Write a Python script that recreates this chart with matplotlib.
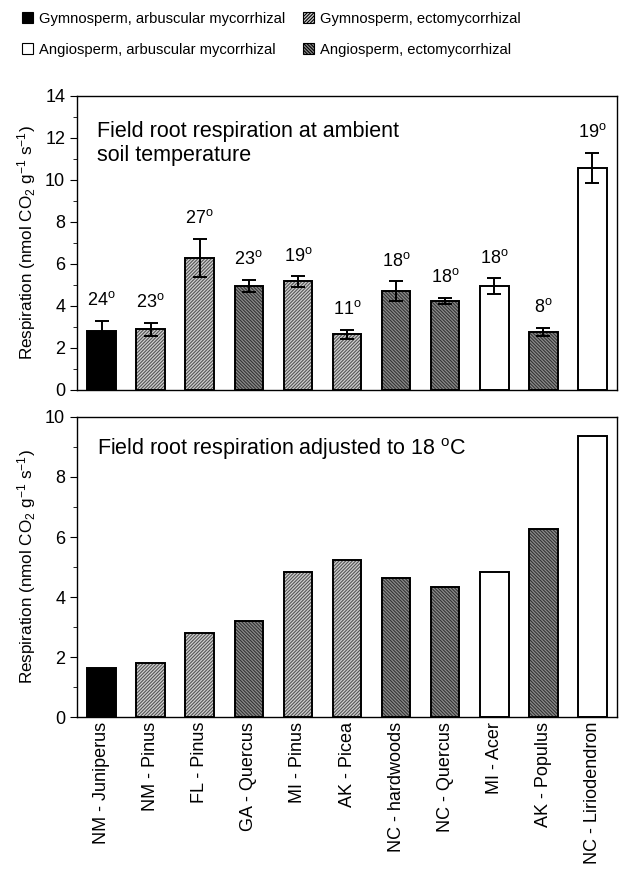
import matplotlib
matplotlib.use("Agg")
import matplotlib.pyplot as plt
from matplotlib.patches import Patch
from matplotlib.ticker import MultipleLocator
import numpy as np

plt.rcParams['font.family'] = ['Liberation Sans', 'DejaVu Sans']
plt.rcParams['mathtext.fontset'] = 'custom'
plt.rcParams['mathtext.rm'] = 'Liberation Sans'
plt.rcParams['mathtext.it'] = 'Liberation Sans:italic'
plt.rcParams['hatch.linewidth'] = 0.8

sites = ["NM - Juniperus", "NM - Pinus", "FL - Pinus", "GA - Quercus", "MI - Pinus",
         "AK - Picea", "NC - hardwoods", "NC - Quercus", "MI - Acer", "AK - Populus",
         "NC - Liriodendron"]
groups = ["GAM", "GECM", "GECM", "AECM", "GECM", "GECM", "AECM", "AECM", "AAM", "AECM", "AAM"]
ambient = [2.82, 2.89, 6.29, 4.95, 5.17, 2.65, 4.71, 4.25, 4.95, 2.75, 10.59]
ambient_err = [0.48, 0.30, 0.90, 0.30, 0.25, 0.22, 0.46, 0.14, 0.38, 0.20, 0.71]
temps = [24, 23, 27, 23, 19, 11, 18, 18, 18, 8, 19]
adjusted = [1.65, 1.79, 2.79, 3.19, 4.83, 5.23, 4.62, 4.34, 4.83, 6.28, 9.36]

group_labels = {"GAM": "Gymnosperm, arbuscular mycorrhizal",
                "GECM": "Gymnosperm, ectomycorrhizal",
                "AAM": "Angiosperm, arbuscular mycorrhizal",
                "AECM": "Angiosperm, ectomycorrhizal"}
styles = {"GAM": dict(fc="black", hatch=None, hc="black"),
          "GECM": dict(fc="#d0d0d0", hatch="/" * 10, hc="#555555"),
          "AAM": dict(fc="white", hatch=None, hc="white"),
          "AECM": dict(fc="#8c8c8c", hatch="\\" * 10, hc="#333333")}

fig = plt.figure(figsize=(6.4, 8.69), dpi=100)
L, R = 77 / 640, 617 / 640
ax1 = fig.add_axes([L, 1 - 390 / 869, R - L, (390 - 96) / 869])
ax2 = fig.add_axes([L, 1 - 717 / 869, R - L, (717 - 417) / 869])

x = np.arange(len(sites))
w = 0.58


def draw_bars(ax, vals):
    for xi, v, g in zip(x, vals, groups):
        s = styles[g]
        ax.bar(xi, v, width=w, color=s["fc"], edgecolor=s["hc"], hatch=s["hatch"], linewidth=0, zorder=2)
        ax.bar(xi, v, width=w, fill=False, edgecolor="black", linewidth=1.4, zorder=3)


draw_bars(ax1, ambient)
ax1.errorbar(x, ambient, yerr=ambient_err, fmt="none", ecolor="black", elinewidth=1.4,
             capsize=4.7, capthick=1.4, zorder=4)
for xi, v, e, t in zip(x, ambient, ambient_err, temps):
    ax1.text(xi, v + e + 0.55, f"{t}$^{{\\mathrm{{o}}}}$", ha="center", va="bottom", fontsize=13)

draw_bars(ax2, adjusted)

for ax, top in ((ax1, 14), (ax2, 10)):
    ax.set_xlim(-0.5, len(sites) - 0.5)
    ax.set_ylim(0, top)
    ax.yaxis.set_major_locator(MultipleLocator(2))
    ax.yaxis.set_minor_locator(MultipleLocator(1))
    ax.tick_params(axis="y", which="major", direction="out", length=5, labelsize=13)
    ax.tick_params(axis="y", which="minor", direction="out", length=3)
    ax.tick_params(axis="x", length=0)
    ax.set_ylabel("Respiration (nmol CO$_2$ g$^{-1}$ s$^{-1}$)", fontsize=12.3, labelpad=5)
    for sp in ax.spines.values():
        sp.set_linewidth(1.0)

ax1.set_xticks(x)
ax1.set_xticklabels([])
ax2.set_xticks(x)
ax2.set_xticklabels(sites, rotation=90, fontsize=13, va="top", ha="center")

ax1.text(0.037, 0.915, "Field root respiration at ambient\nsoil temperature", transform=ax1.transAxes,
         fontsize=15.5, va="top", ha="left", linespacing=1.2)
ax2.text(0.037, 0.935, "Field root respiration adjusted to 18 $^{\\mathrm{o}}$C", transform=ax2.transAxes,
         fontsize=15.5, va="top", ha="left")

order = ["GAM", "AAM", "GECM", "AECM"]
handles = [Patch(facecolor=styles[g]["fc"], edgecolor="black", hatch=styles[g]["hatch"], linewidth=0.8,
                 label=group_labels[g]) for g in order]
fig.legend(handles=handles, loc="upper left", bbox_to_anchor=(0.025, 0.993), ncol=2, frameon=False,
           fontsize=10.6, handlelength=0.75, handleheight=0.75, handletextpad=0.4,
           columnspacing=1.2, labelspacing=1.15, borderaxespad=0)

fig.savefig("out.png", dpi=100)
